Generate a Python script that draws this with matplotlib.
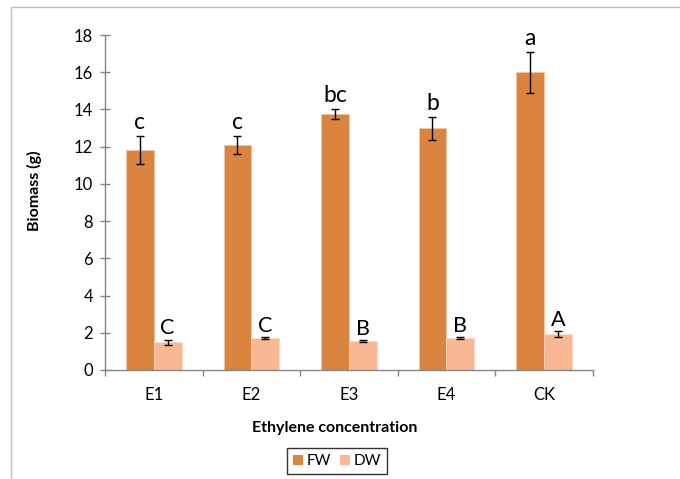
import numpy as np
import matplotlib.pyplot as plt
from matplotlib.patches import Rectangle, Patch

plt.rcParams["font.family"] = ["Lato", "DejaVu Sans"]

categories = ["E1", "E2", "E3", "E4", "CK"]
fw = [11.8, 12.1, 13.75, 13.0, 16.0]
fw_err = [0.75, 0.47, 0.29, 0.62, 1.1]
dw = [1.49, 1.72, 1.56, 1.72, 1.94]
dw_err = [0.12, 0.05, 0.03, 0.05, 0.14]
fw_letters = ["c", "c", "bc", "b", "a"]
dw_letters = ["C", "C", "B", "B", "A"]

W, H = 680, 479
fig = plt.figure(figsize=(W / 100, H / 100), dpi=100)

# outer chart border (only top and left show in the crop)
fig.patches.append(Rectangle((11 / W, -0.1), 2, 1 - 7 / H + 0.1, transform=fig.transFigure,
                             fill=False, edgecolor="#bfbfbf", linewidth=1))

ax = fig.add_axes([105 / W, 1 - 370 / H, 487.7 / W, 335 / H])

x = np.arange(len(categories))
w = 0.285
fw_col = "#db843f"
dw_col = "#f9b894"

ax.bar(x - w / 2, fw, w, color=fw_col, edgecolor="#f0c9a8", linewidth=0.4, zorder=2)
ax.bar(x + w / 2, dw, w, color=dw_col, edgecolor="#fbd8c4", linewidth=0.4, zorder=2)
ax.errorbar(x - w / 2, fw, yerr=fw_err, fmt="none", ecolor="black", elinewidth=1,
            capsize=3.2, capthick=1, zorder=3)
ax.errorbar(x + w / 2, dw, yerr=dw_err, fmt="none", ecolor="black", elinewidth=1,
            capsize=3.2, capthick=1, zorder=3)

for i in range(len(categories)):
    ax.annotate(fw_letters[i], (x[i] - w / 2, fw[i] + fw_err[i]), xytext=(0, 5),
                textcoords="offset points", ha="center", va="baseline", fontsize=16.5)
    ax.annotate(dw_letters[i], (x[i] + w / 2, dw[i] + dw_err[i]), xytext=(0, 4),
                textcoords="offset points", ha="center", va="baseline", fontsize=15.5)

ax.set_xlim(-0.5, len(categories) - 0.5)
ax.set_ylim(0, 18)
ax.set_yticks(np.arange(0, 19, 2))
ax.set_xticks(x)
ax.set_xticklabels(categories)
ax.set_xticks(np.arange(-0.5, len(categories), 1), minor=True)

for s in ["top", "right"]:
    ax.spines[s].set_visible(False)
for s in ["left", "bottom"]:
    ax.spines[s].set_color("#868686")
    ax.spines[s].set_linewidth(1)

ax.tick_params(axis="y", direction="inout", length=7.2, width=1, color="#868686",
               labelsize=12, pad=5)
ax.tick_params(axis="x", which="major", length=0, labelsize=12, pad=12)
ax.tick_params(axis="x", which="minor", direction="out", length=4.3, width=1, color="#868686")

fig.text(335 / W, 1 - 431.7 / H, "Ethylene concentration", ha="center", va="baseline",
         fontsize=11.5, fontweight="bold")
fig.text(34 / W, 1 - 191 / H, "Biomass (g)", ha="center", va="center", rotation=90,
         fontsize=11.5, fontweight="bold")

handles = [Patch(facecolor=fw_col, label="FW"), Patch(facecolor=dw_col, label="DW")]
leg = fig.legend(handles=handles, loc="center", bbox_to_anchor=(337 / W, 1 - 461.3 / H),
                 ncol=2, frameon=True, fancybox=False, fontsize=11, handlelength=0.65,
                 handleheight=0.65, handletextpad=0.25, columnspacing=0.55, borderpad=0.4,
                 borderaxespad=0)
leg.get_frame().set_edgecolor("black")
leg.get_frame().set_linewidth(1)

fig.savefig("out.png", dpi=100)
